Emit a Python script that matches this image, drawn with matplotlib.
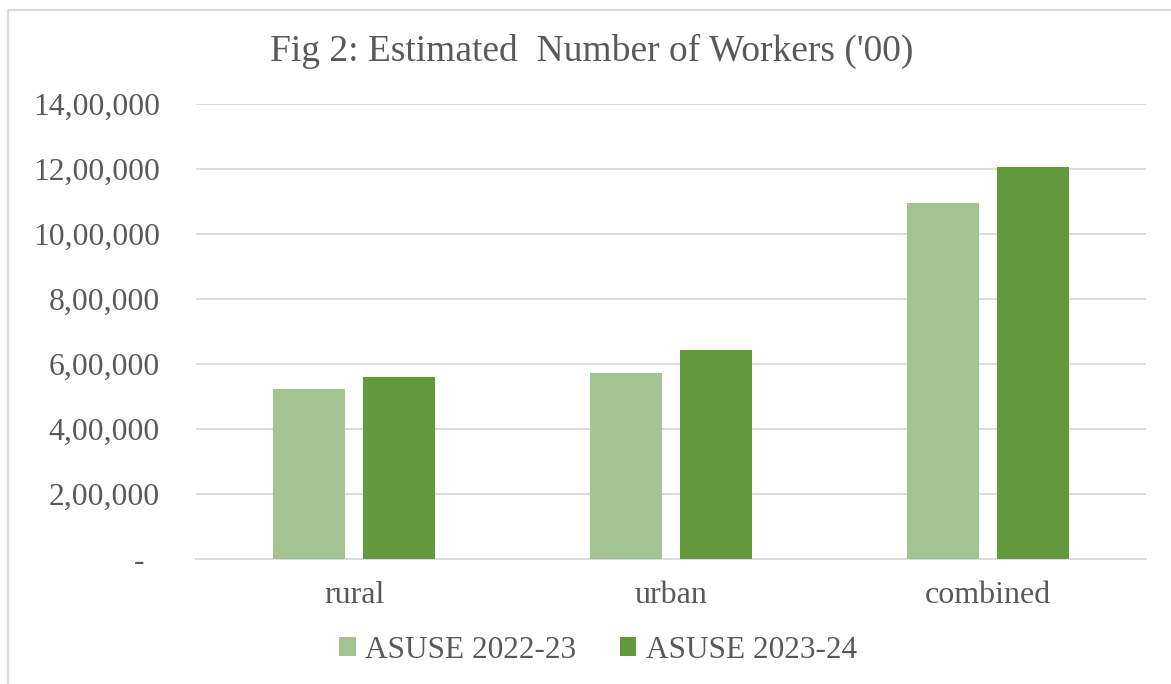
import numpy as np
import matplotlib.pyplot as plt
from matplotlib.patches import Rectangle

# data
categories = ['rural', 'urban', 'combined']
series_names = ['ASUSE 2022-23', 'ASUSE 2023-24']
workers_2223 = [523000, 571000, 1094000]
workers_2324 = [561000, 643000, 1207000]
y_ticks = [0, 200000, 400000, 600000, 800000, 1000000, 1200000, 1400000]
y_tick_labels = ['-  ', '2,00,000', '4,00,000', '6,00,000', '8,00,000',
                 '10,00,000', '12,00,000', '14,00,000']

LIGHT = '#A3C490'
DARK = '#63993D'
TEXT = '#595959'

plt.rcParams['font.family'] = ['Liberation Serif', 'DejaVu Serif']

fig = plt.figure(figsize=(11.71, 6.84), dpi=100)
ax = fig.add_axes([196/1171, 1 - 559/684, 950/1171, 455/684])

# chart frame
fig.patches.append(Rectangle((8/1171, -0.05), 1.2, 1 - 10/684 + 0.05,
                             transform=fig.transFigure, fill=False,
                             edgecolor='#D9D9D9', linewidth=1.5))

x = np.arange(len(categories))
w = 0.227
gap = 0.057
ax.bar(x - (w + gap) / 2, workers_2223, w, color=LIGHT, label=series_names[0], zorder=3)
ax.bar(x + (w + gap) / 2, workers_2324, w, color=DARK, label=series_names[1], zorder=3)

ax.set_xlim(-0.5, 2.5)
ax.set_ylim(0, 1400000)
ax.set_yticks(y_ticks)
ax.set_yticklabels(y_tick_labels)
ax.set_xticks(x)
ax.set_xticklabels(categories)
ax.tick_params(axis='y', length=0, pad=26, labelsize=22.8, labelcolor=TEXT)
ax.tick_params(axis='x', length=0, pad=16, labelsize=23, labelcolor=TEXT)
ax.grid(axis='y', color='#D9D9D9', linewidth=1.3, zorder=0)
for side in ['top', 'right', 'left']:
    ax.spines[side].set_visible(False)
ax.spines['bottom'].set_color('#D9D9D9')
ax.spines['bottom'].set_linewidth(1.3)

fig.text(592/1171, 1 - 51/684, "Fig 2: Estimated  Number of Workers ('00)",
         ha='center', va='center', fontsize=27, color=TEXT)

ax.legend(loc='center', bbox_to_anchor=(598/1171, 1 - 650/684),
          bbox_transform=fig.transFigure, ncol=2, frameon=False,
          fontsize=22.5, labelcolor=TEXT, handlelength=0.52, handleheight=0.52,
          handletextpad=0.29, columnspacing=1.42)

fig.savefig('out.png', dpi=100)
